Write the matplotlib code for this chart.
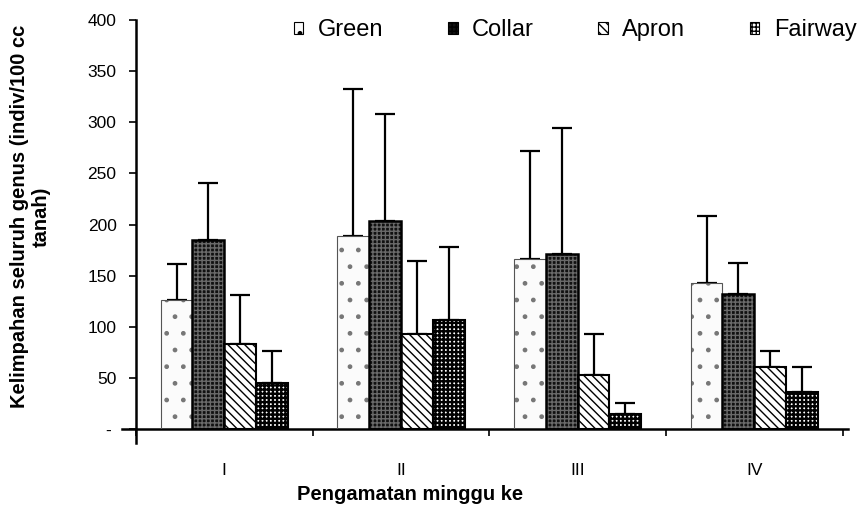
import numpy as np
import matplotlib
matplotlib.use('Agg')
import matplotlib.pyplot as plt

plt.rcParams['font.family'] = ['Liberation Sans', 'DejaVu Sans']

# Data
weeks = ['I', 'II', 'III', 'IV']
series = ['Green', 'Collar', 'Apron', 'Fairway']
green = [126, 189, 166, 143]
collar = [185, 203, 171, 132]
apron = [83, 93, 53, 61]
fairway = [45, 107, 15, 36]
green_err = [35, 143, 106, 65]
collar_err = [56, 105, 123, 30]
apron_err = [48, 71, 40, 15]
fairway_err = [31, 71, 11, 25]

values = [green, collar, apron, fairway]
errors = [green_err, collar_err, apron_err, fairway_err]

# styles for each series: (face, hatch colour, hatch, hatch width, outline colour, outline width)
styles = [
    ('#fbfbfb', '#777777', '.', 1.0, '#555555', 0.8),
    ('#111111', '#6a6a6a', '++++', 1.0, 'black', 1.8),
    ('white', 'black', '\\\\\\\\', 1.0, 'black', 1.5),
    ('white', 'black', '++++', 1.7, 'black', 1.5),
]

fig = plt.figure(figsize=(8.66, 5.08), dpi=100)
ax = fig.add_axes([0.157, 0.155, 0.816, 0.806])

x = np.arange(len(weeks))
width = 0.18
handles = []
for i, (vals, errs) in enumerate(zip(values, errors)):
    face, hcol, hatch, hlw, ecol, lw = styles[i]
    plt.rcParams['hatch.linewidth'] = hlw
    pos = x + (i - 1.5) * width
    ax.bar(pos, vals, width, color=face, edgecolor=hcol, hatch=hatch, linewidth=0, zorder=2)
    ax.bar(pos, vals, width, color='none', edgecolor=ecol, linewidth=lw, zorder=3)
    ax.errorbar(pos, vals, yerr=[np.zeros(len(errs)), errs], fmt='none',
                ecolor='black', elinewidth=1.6, capsize=7, capthick=1.6, zorder=1)
    h = plt.Rectangle((0, 0), 1, 1, facecolor=face, edgecolor='black', hatch=hatch, linewidth=0.8)
    handles.append(h)
plt.rcParams['hatch.linewidth'] = 1.0

ax.set_xlim(-0.5, 3.5)
ax.set_ylim(0, 400)
ax.set_yticks(range(0, 401, 50))
ax.set_yticklabels(['- '] + [str(v) for v in range(50, 401, 50)], fontsize=12.5)
ax.set_xticks(x)
ax.set_xticklabels(weeks, fontsize=12.5)
ax.tick_params(axis='x', length=0, pad=24)
ax.set_xticks(np.arange(-0.5, 4, 1), minor=True)
ax.tick_params(axis='x', which='minor', length=5, width=1.2, direction='out')
ax.tick_params(axis='y', length=5, width=1.2, direction='out', pad=9)

for s in ['top', 'right']:
    ax.spines[s].set_visible(False)
ax.spines['left'].set_linewidth(1.8)
ax.spines['bottom'].set_linewidth(1.8)
ax.spines['left'].set_bounds(-13, 400)
ax.spines['bottom'].set_bounds(-0.58, 3.53)

ax.set_ylabel('Kelimpahan seluruh genus (indiv/100 cc\ntanah)', fontsize=14.5,
              fontweight='bold')
ax.yaxis.set_label_coords(-0.12, 0.52)
fig.text(410 / 866, 1 - 494 / 508, 'Pengamatan minggu ke', fontsize=14.5,
         fontweight='bold', ha='center', va='center')

ax.legend(handles, series, ncol=4, frameon=False, loc='center right',
          bbox_to_anchor=(1.008, 1 - 30 / 508), bbox_transform=fig.transFigure,
          fontsize=17, handlelength=0.4, handleheight=0.4,
          handletextpad=0.6, columnspacing=2.75, borderpad=0.2)

plt.savefig('out.png', dpi=100)
